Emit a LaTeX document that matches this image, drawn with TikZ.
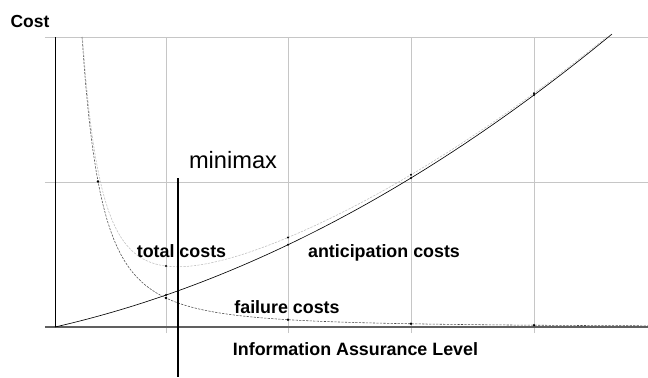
\documentclass[tikz,border=0pt]{standalone}
\usepackage{fontspec}
\setmainfont{Liberation Sans}
\usepackage{tikz}

\begin{document}
\begin{tikzpicture}[x=0.025cm,y=0.025cm,
  declare function={fail(\u)=290*(38.85/(\u+11.85))^2;
                    anti(\u)=\u*(0.2285+0.0005298*\u);},
  gridline/.style={gray!45,line width=0.7pt},
  curvelabel/.style={font=\fontsize{12.7}{15}\selectfont\bfseries,anchor=base},
  dotcurve/.style={gray!60!black,line width=0.4pt,dash pattern=on 1.6pt off 0.9pt}]
  \useasboundingbox (-55,-50) rectangle (593,327);

  % Draw the grid
  \foreach \u in {111,233,356,479}
    \draw[gridline] (\u,-6) -- (\u,290);
  \draw[gridline] (-10,145) -- (593,145);
  \draw[gridline] (-10,290) -- (593,290);
  \draw[gray!75!black,line width=0.8pt] (-10,0) -- (593,0);
  \draw[line width=0.65pt] (0,0) -- (0,290);

  % Draw the curves
  \draw[line width=0.45pt] plot[domain=0:557,samples=120] (\x,{anti(\x)});
  \draw[dotcurve] plot[domain=27:593,samples=160] (\x,{fail(\x)});
  \draw[dotcurve,gray!50] plot[domain=27.5:553,samples=160] (\x,{fail(\x)+anti(\x)});

  % Small marks on the curves
  \foreach \u in {111,233,356,479} {
    \fill ({\u},{fail(\u)}) circle (1.3);
    \fill ({\u},{anti(\u)}) circle (1.1);
    \fill ({\u},{fail(\u)+anti(\u)}) circle (1.1);
  }
  \fill (43,{fail(43)}) circle (1.3);

  % The minimax line
  \coordinate (minitop) at (123,149);
  \coordinate (minibot) at (123,-50);
  \draw[line width=1.4pt] (minitop) -- (minibot);

  % Labels
  \node[font=\fontsize{12.4}{15}\selectfont\bfseries,anchor=base] (costlbl) at (-25,300) {Cost};
  \node[font=\fontsize{16.8}{20}\selectfont,anchor=base] (minimaxlbl) at (178,159) {minimax};
  \node[curvelabel] (totallbl) at (126.5,70) {total costs};
  \node[curvelabel] (antilbl) at (329,70) {anticipation costs};
  \node[curvelabel] (faillbl) at (232,14) {failure costs};
  \node[curvelabel] (levellbl) at (300.5,-28) {Information Assurance Level};

\end{tikzpicture}
\end{document}
